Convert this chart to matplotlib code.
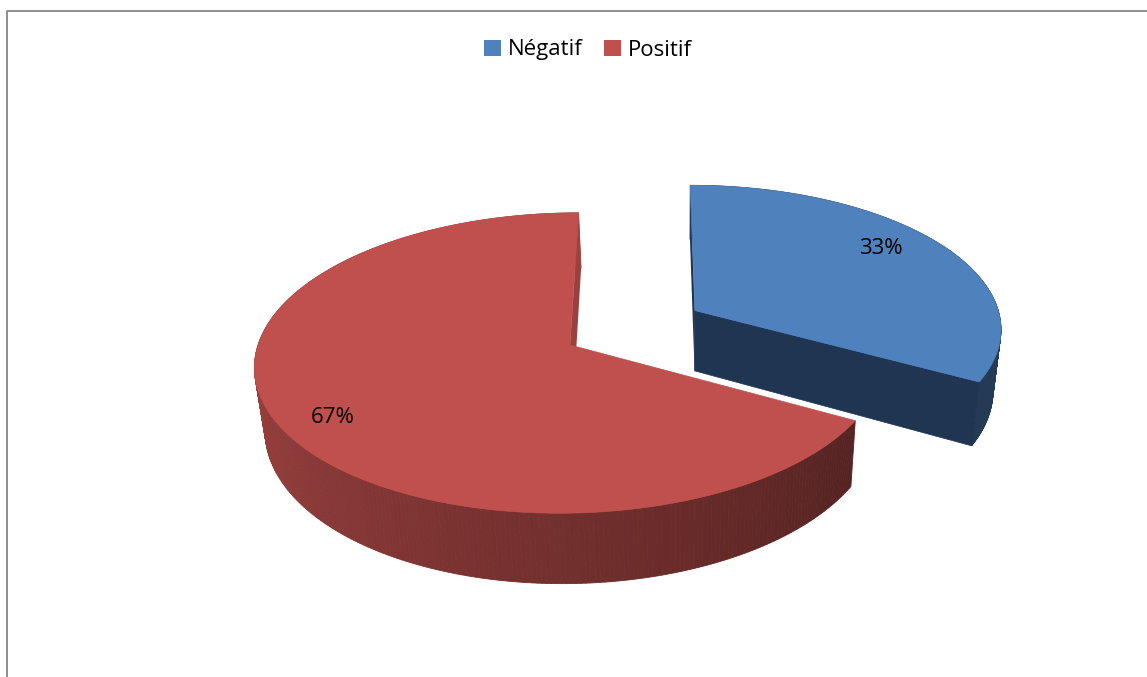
import numpy as np
import matplotlib
matplotlib.use("Agg")
import matplotlib.pyplot as plt
from matplotlib.patches import Polygon, Patch
from matplotlib.colors import to_rgb

plt.rcParams['font.family'] = ['Open Sans', 'DejaVu Sans']

labels = ['Négatif', 'Positif']
values = [33, 67]
top_colors = ['#4F81BD', '#C0504D']
label_texts = ['33%', '67%']

# projection of the tilted disc (pixel space of the figure)
CX, CY = 570, 345
R, RY = 312, 148
XC = 650              # horizontal vanishing point
KX, KY = 0.12, 0.12   # perspective strength (back is smaller)
H = 62                # thickness of the pie
X0, F = 680, 0.025
EXPLODE = [0.47, 0.0]
LABEL_R = [0.76, 0.84]
LABEL_NUDGE = [(-2, -10), (5, 6)]   # pixels


def proj(X, Y, bottom=False):
    X = np.asarray(X, float)
    Y = np.asarray(Y, float)
    sx = XC + (CX + R * X - XC) / (1 + KX * Y)
    w = 1 + KY * Y
    sy = CY - RY * Y / w
    if bottom:
        sx = sx + (X0 - sx) * F
        sy = sy + H / w
    return sx, sy


def shade(c, f):
    r, g, b = to_rgb(c)
    return (r * f, g * f, b * f)


def wall_color(i, th):
    # darker towards the right-hand side of the pie
    if i == 1:
        t = np.clip((np.degrees(th) - 180) / 151, 0, 1)
        return shade(top_colors[1], 0.82 - 0.38 * t)
    return shade(top_colors[0], 0.45)


fig = plt.figure(figsize=(11.47, 6.77), dpi=100)
ax = fig.add_axes([0, 0, 1, 1])
ax.set_xlim(0, 1147)
ax.set_ylim(677, 0)
ax.axis('off')

fracs = np.array(values, float) / sum(values)
# Négatif goes clockwise from 12 o'clock, Positif takes the rest
spans = [(90 - 360 * fracs[0], 90), (90, 90 + 360 * fracs[1])]

for i in [0, 1]:
    a0, a1 = np.radians(spans[i][0]), np.radians(spans[i][1])
    mid = (a0 + a1) / 2
    ox, oy = EXPLODE[i] * np.cos(mid), EXPLODE[i] * np.sin(mid)
    th = np.linspace(a0, a1, 300)
    rx, ry = ox + np.cos(th), oy + np.sin(th)

    # radial face on the 12 o'clock edge
    px = [ox, rx[-1] if i == 0 else rx[0]]
    py = [oy, ry[-1] if i == 0 else ry[0]]
    tx, ty = proj(px, py)
    bx, by = proj(px, py, bottom=True)
    ax.add_patch(Polygon(np.column_stack([np.r_[tx, bx[::-1]], np.r_[ty, by[::-1]]]),
                         closed=True, fc=shade(top_colors[i], 0.8 if i == 1 else 0.4),
                         ec='none'))

    # outer wall, drawn back to front
    order = np.argsort(-np.sin(th[:-1]))
    for j in order:
        xs, ys = rx[j:j + 2], ry[j:j + 2]
        tx, ty = proj(xs, ys)
        bx, by = proj(xs, ys, bottom=True)
        c = wall_color(i, th[j])
        ax.add_patch(Polygon(np.column_stack([np.r_[tx, bx[::-1]], np.r_[ty, by[::-1]]]),
                             closed=True, fc=c, ec=c, lw=0.6))

    # cut face of the exploded slice
    if i == 0:
        px = [ox, rx[0]]
        py = [oy, ry[0]]
        tx, ty = proj(px, py)
        bx, by = proj(px, py, bottom=True)
        ax.add_patch(Polygon(np.column_stack([np.r_[tx, bx[::-1]], np.r_[ty, by[::-1]]]),
                             closed=True, fc='#1F3551', ec='#1F3551', lw=0.5))

    # top face
    sx, sy = proj(np.r_[ox, rx], np.r_[oy, ry])
    ax.add_patch(Polygon(np.column_stack([sx, sy]), closed=True,
                         fc=top_colors[i], ec=top_colors[i], lw=0.5))

    lx, ly = proj(ox + LABEL_R[i] * np.cos(mid), oy + LABEL_R[i] * np.sin(mid))
    ax.text(lx + LABEL_NUDGE[i][0], ly + LABEL_NUDGE[i][1], label_texts[i],
            ha='center', va='center', fontsize=16, color='black')

# chart border
ax.plot([7, 7, 1147], [677, 11, 11], color='#868686', lw=1.3, solid_capstyle='butt')

handles = [Patch(fc=c, ec='none') for c in top_colors]
fig.legend(handles, labels, loc='center', bbox_to_anchor=(588 / 1147, 1 - 50 / 677),
           ncol=2, frameon=False, fontsize=16, handlelength=0.75, handleheight=0.75,
           handletextpad=0.3, columnspacing=1.0, borderaxespad=0)

fig.savefig('out.png', dpi=100)
